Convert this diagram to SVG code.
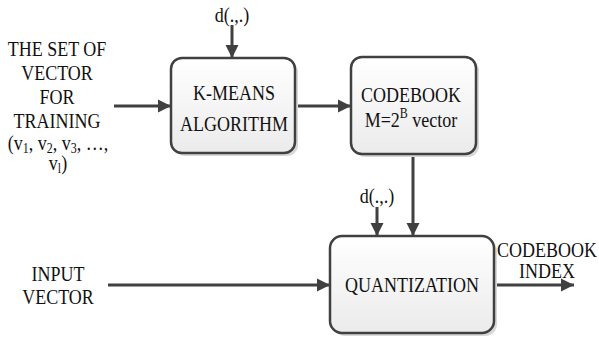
<svg xmlns="http://www.w3.org/2000/svg" width="599" height="337" viewBox="0 0 599 337">
<defs>
<linearGradient id="g" x1="0" y1="0" x2="0" y2="1">
<stop offset="0" stop-color="#ffffff"/>
<stop offset="1" stop-color="#ebebeb"/>
</linearGradient>
<marker id="ah" markerUnits="userSpaceOnUse" markerWidth="14" markerHeight="14" viewBox="0 0 14 14" refX="13" refY="7" orient="auto">
<path d="M0,0.5 L13,7 L0,13.5 Z" fill="#404040"/>
</marker>
</defs>
<style>
.box{fill:url(#g);stroke:#404040;stroke-width:2.5}
.sh{fill:#d8d8d8}
text{font-family:'Liberation Serif','Times New Roman',serif;font-size:18px;fill:#111;text-anchor:middle}
.c{stroke:#404040;stroke-width:3;fill:none;marker-end:url(#ah)}
</style>
<rect width="599" height="337" fill="#fff"/>
<g id="connectors">
<line class="c" x1="114" y1="106" x2="171" y2="106"/>
<line class="c" x1="232" y1="25" x2="232" y2="58"/>
<line class="c" x1="295" y1="106" x2="351" y2="106"/>
<line class="c" x1="413" y1="154" x2="413" y2="236"/>
<line class="c" x1="377" y1="207" x2="377" y2="236"/>
<line class="c" x1="108" y1="285" x2="330" y2="285"/>
<line class="c" x1="494" y1="285" x2="574" y2="285"/>
</g>
<g id="training-label" font-family="Liberation Serif, serif">
<text transform="translate(57,56) scale(1,1.15)">THE SET OF</text>
<text transform="translate(57,80) scale(1,1.15)">VECTOR</text>
<text transform="translate(57,104) scale(1,1.15)">FOR</text>
<text transform="translate(57,128) scale(1,1.15)">TRAINING</text>
<text transform="translate(58,150) scale(1,1.15)">(v<tspan font-size="12" baseline-shift="-3">1</tspan>, v<tspan font-size="12" baseline-shift="-3">2</tspan>, v<tspan font-size="12" baseline-shift="-3">3</tspan>, …,</text>
<text transform="translate(58,170) scale(1,1.15)">v<tspan font-size="12" baseline-shift="-3">l</tspan>)</text>
</g>
<g id="d1">
<text transform="translate(232,22) scale(1,1.15)">d(.,.)</text>
</g>
<g id="kmeans">
<rect class="sh" x="174" y="61" width="124" height="95" rx="11"/>
<rect class="box" x="171" y="58" width="124" height="95" rx="11"/>
<text transform="translate(234,100) scale(1,1.15)">K-MEANS</text>
<text transform="translate(234,131) scale(1,1.15)">ALGORITHM</text>
</g>
<g id="codebook">
<rect class="sh" x="354" y="60" width="125" height="97" rx="11"/>
<rect class="box" x="351" y="57" width="125" height="97" rx="11"/>
<text transform="translate(411,102) scale(1,1.15)">CODEBOOK</text>
<text transform="translate(411,127) scale(1,1.15)">M=2<tspan font-size="12" baseline-shift="7">B</tspan> vector</text>
</g>
<g id="d2">
<text transform="translate(377,203) scale(1,1.15)">d(.,.)</text>
</g>
<g id="quantization">
<rect class="sh" x="333" y="239" width="164" height="97" rx="12"/>
<rect class="box" x="330" y="236" width="164" height="97" rx="12"/>
<text transform="translate(412,292) scale(1,1.15)">QUANTIZATION</text>
</g>
<g id="input-label">
<text transform="translate(58,281) scale(1,1.15)">INPUT</text>
<text transform="translate(58,304) scale(1,1.15)">VECTOR</text>
</g>
<g id="output-label">
<text transform="translate(547,257) scale(1,1.15)">CODEBOOK</text>
<text transform="translate(547,278) scale(1,1.15)">INDEX</text>
</g>
</svg>
